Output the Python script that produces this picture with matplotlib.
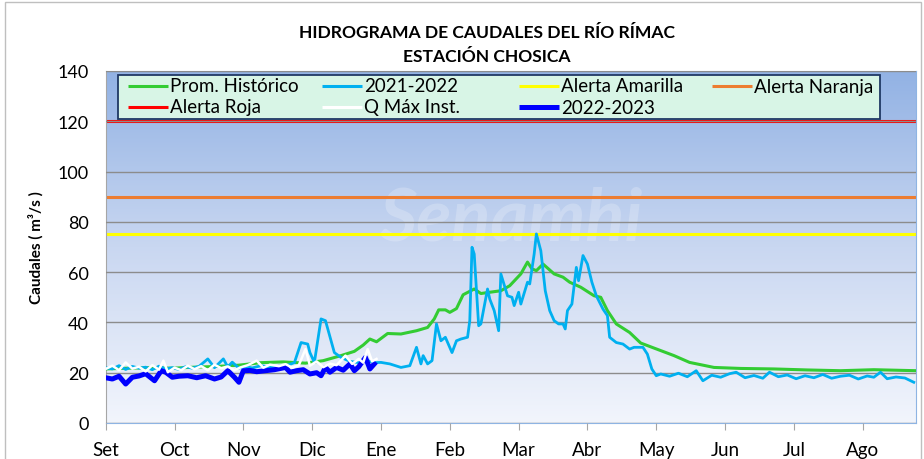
import numpy as np
import matplotlib
matplotlib.use('Agg')
import matplotlib.pyplot as plt
from matplotlib.colors import LinearSegmentedColormap

plt.rcParams['font.family'] = ['Lato', 'DejaVu Sans']

# ---- data ----
months = ['Set', 'Oct', 'Nov', 'Dic', 'Ene', 'Feb', 'Mar', 'Abr', 'May', 'Jun', 'Jul', 'Ago']

hist_days = [0, 10, 20, 30, 40, 50, 60, 70, 80, 90, 98, 106, 112, 116, 119, 122, 127, 133,
             140, 145, 148, 150, 153, 155, 158, 161, 166, 169, 173, 178, 182, 187, 190, 192,
             194, 197, 202, 206, 209, 214, 220, 223, 226, 230, 236, 241, 250, 256, 263, 274,
             286, 301, 316, 331, 346, 365]
hist_vals = [21.5, 21.8, 22.0, 21.8, 22.2, 22.5, 23.0, 24.0, 24.3, 23.8, 24.8, 26.8, 28.5, 31.0,
             33.4, 32.3, 35.6, 35.4, 36.7, 38.0, 41.4, 45.0, 45.0, 44.0, 45.5, 51.0, 53.3, 51.5,
             52.0, 52.6, 54.6, 59.3, 64.0, 61.3, 60.6, 63.2, 59.3, 58.0, 56.0, 54.0, 50.6, 50.0,
             44.7, 39.4, 36.0, 31.8, 28.8, 26.8, 24.1, 22.1, 21.7, 21.5, 21.1, 20.8, 21.2, 20.8]

q2122_days = [0, 3, 6, 9, 12, 15, 18, 21, 24, 27, 30, 33, 36, 39, 42, 46, 49, 53, 55, 57, 60,
              63, 66, 70, 74, 78, 82, 85, 88, 91, 92, 94, 97, 99, 103, 106, 110, 114, 118, 121,
              124, 128, 133, 137, 140, 142, 143, 145, 147, 149, 151, 153, 156, 158, 160, 163,
              164, 165, 166, 168, 169, 172, 173, 175, 177, 178, 181, 183, 184, 186, 187, 190,
              191, 193, 194, 196, 198, 200, 202, 204, 206, 207, 208, 210, 212, 213, 215, 217,
              219, 221, 224, 226, 227, 230, 233, 236, 238, 242, 244, 246, 248, 250, 254, 258,
              262, 266, 269, 273, 277, 281, 284, 288, 292, 296, 299, 303, 307, 311, 315, 319,
              323, 327, 331, 335, 339, 343, 346, 349, 352, 356, 360, 364]
q2122_vals = [22.0, 21.5, 22.8, 21.3, 22.5, 21.8, 22.2, 21.2, 22.6, 21.5, 22.0, 21.3, 22.4, 21.8,
              22.5, 25.5, 22.0, 25.5, 22.3, 24.2, 21.8, 22.5, 21.9, 22.8, 22.2, 22.6, 23.0, 24.0,
              32.0, 31.4, 28.0, 24.1, 41.4, 40.7, 28.0, 26.1, 24.5, 24.0, 24.8, 24.0, 24.1, 23.5,
              22.1, 22.8, 30.1, 23.5, 26.8, 23.5, 24.8, 39.4, 32.7, 34.1, 28.0, 32.7, 33.4, 34.1,
              40.7, 69.9, 67.2, 38.7, 39.4, 53.3, 49.3, 44.7, 36.7, 59.3, 50.6, 50.0, 46.7, 52.0,
              47.3, 56.0, 55.3, 67.2, 75.2, 68.5, 52.6, 44.7, 40.7, 39.4, 39.4, 37.4, 44.7, 47.3,
              61.9, 56.6, 66.6, 63.2, 56.0, 50.6, 45.3, 42.7, 34.1, 32.0, 31.4, 29.4, 30.1, 30.1,
              27.4, 21.5, 18.8, 19.5, 18.6, 19.8, 18.4, 20.8, 16.8, 19.0, 18.2, 19.6, 20.2, 18.0,
              18.9, 17.8, 20.2, 18.4, 19.1, 17.6, 18.8, 18.0, 19.3, 17.8, 18.6, 19.0, 17.5, 18.7,
              18.2, 20.2, 17.6, 18.3, 17.9, 16.2]

qmax_days = [0, 3, 6, 9, 12, 15, 18, 21, 24, 26, 28, 31, 34, 37, 40, 43, 46, 49, 52, 55, 58,
             61, 64, 68, 71, 74, 78, 81, 84, 87, 90, 92, 95, 98, 101, 104, 108, 111, 114, 116,
             118, 120, 122]
qmax_vals = [21.5, 22.8, 21.0, 24.1, 21.6, 22.4, 20.5, 23.0, 21.2, 24.8, 20.2, 22.0, 21.0, 22.8,
             21.4, 22.6, 21.0, 23.2, 21.8, 22.5, 21.0, 22.2, 23.0, 24.8, 22.0, 23.2, 22.6, 23.4,
             22.0, 23.0, 29.4, 22.8, 24.5, 22.2, 23.6, 23.0, 26.8, 23.5, 25.5, 24.0, 29.4, 24.5,
             25.5]

q2223_days = [0, 3, 6, 9, 12, 15, 18, 22, 25, 27, 30, 33, 37, 41, 45, 49, 52, 55, 58, 60, 62,
              65, 68, 72, 76, 81, 83, 86, 89, 92, 95, 97, 99, 101, 104, 107, 110, 112, 114, 117,
              119, 121]
q2223_vals = [18.0, 17.5, 18.6, 15.5, 18.2, 18.7, 19.6, 16.8, 20.8, 20.2, 18.2, 18.6, 18.8, 18.0,
              18.8, 17.5, 18.3, 20.8, 18.2, 16.2, 20.8, 20.9, 20.4, 20.8, 21.2, 22.1, 20.2, 20.8,
              21.2, 19.5, 20.0, 18.8, 22.1, 20.2, 22.1, 21.0, 23.5, 20.8, 22.4, 26.1, 21.5, 23.5]

alert_names = ['Alerta Amarilla', 'Alerta Naranja', 'Alerta Roja']
alert_levels = [75, 90, 120]
alert_colors = ['#ffff00', '#ed7d31', '#ff0000']

c_hist = '#33cc33'
c_2122 = '#00b0f0'
c_qmax = '#ffffff'
c_2223 = '#0000ff'

# plot area in pixels of the 924x460 picture
AX_L, AX_R, AX_T, AX_B = 105.7, 916.0, 72.0, 424.0


def px2ax(px, py):
    return (px - AX_L) / (AX_R - AX_L), (AX_B - py) / (AX_B - AX_T)


def draw_legend(ax, entries):
    # entries: (label, color, width, column, row)
    x0, y0 = px2ax(118, 120)
    x1, y1 = px2ax(880, 76)
    ax.add_patch(plt.Rectangle((x0, y0), x1 - x0, y1 - y0, transform=ax.transAxes,
                               facecolor='#d8f5e6', edgecolor='#1f3864', linewidth=1.3,
                               zorder=10))
    col_px = [128, 322, 519, 712]
    row_py = [87, 108]
    for label, color, lw, col, row in entries:
        hx0, hy = px2ax(col_px[col], row_py[row])
        hx1, _ = px2ax(col_px[col] + 40, row_py[row])
        ax.plot([hx0, hx1], [hy, hy], color=color, linewidth=lw, transform=ax.transAxes,
                zorder=11, solid_capstyle='butt', clip_on=False)
        ax.text(hx1 + 0.003, hy, label, transform=ax.transAxes, fontsize=13.5,
                ha='left', va='center', zorder=12)


def main():
    fig = plt.figure(figsize=(9.24, 4.6), dpi=100)
    ax = fig.add_axes([AX_L / 924, (460 - AX_B) / 460, (AX_R - AX_L) / 924, (AX_B - AX_T) / 460])

    # outer frame of the chart
    fig.add_artist(plt.Rectangle((5 / 924, -0.1), 916 / 924, 1.1 - 3 / 460,
                                 transform=fig.transFigure, fill=False,
                                 edgecolor='#bfbfbf', linewidth=1.0))

    # gradient background of the plot area
    grad = np.linspace(1, 0, 256).reshape(-1, 1)
    cmap = LinearSegmentedColormap.from_list('bg', ['#f2f5fc', '#c9d7f1', '#92b2e4'])
    ax.imshow(grad, cmap=cmap, extent=[0, 1, 0, 1], transform=ax.transAxes,
              aspect='auto', zorder=0, interpolation='bilinear')

    # faint watermark
    ax.text(0.5, 0.58, 'Senamhi', transform=ax.transAxes, fontsize=52, fontweight='bold',
            fontstyle='italic', color='white', alpha=0.22, ha='center', va='center', zorder=1)

    ax.set_xlim(0, 365)
    ax.set_ylim(0, 140)
    ax.set_yticks(np.arange(0, 141, 20))
    ax.set_xticks(np.arange(0, 365, 31))
    ax.set_xticklabels(months)
    ax.yaxis.grid(True, color='#8c8c8c', linewidth=1.0, zorder=1)
    ax.set_axisbelow(False)
    ax.tick_params(axis='y', length=0, labelsize=13, pad=12)
    ax.tick_params(axis='x', length=5, color='#a6a6a6', labelsize=13.5, pad=8)
    for s in ['top', 'right', 'bottom']:
        ax.spines[s].set_color('#8eb4e3')
    ax.spines['left'].set_color('#a6a6a6')

    for lvl, col in zip(alert_levels, alert_colors):
        ax.axhline(lvl, color=col, linewidth=2.2, zorder=2)

    ax.plot(hist_days, hist_vals, color=c_hist, linewidth=2.2, zorder=3)
    ax.plot(q2122_days, q2122_vals, color=c_2122, linewidth=2.0, zorder=4)
    ax.plot(q2223_days, q2223_vals, color=c_2223, linewidth=3.6, zorder=5)
    ax.plot(qmax_days, qmax_vals, color=c_qmax, linewidth=1.8, zorder=6)

    ax.set_ylabel('Caudales ( m³/s )', fontsize=11, fontweight='bold', labelpad=10)

    fig.text(487 / 924, 1 - 33 / 460, 'HIDROGRAMA DE CAUDALES DEL RÍO RÍMAC',
             ha='center', va='center', fontsize=12.6, fontweight='bold')
    fig.text(487 / 924, 1 - 57 / 460, 'ESTACIÓN CHOSICA',
             ha='center', va='center', fontsize=12.6, fontweight='bold')

    entries = [('Prom. Histórico', c_hist, 2.2, 0, 0),
               ('2021-2022', c_2122, 2.2, 1, 0),
               (alert_names[0], alert_colors[0], 2.2, 2, 0),
               (alert_names[1], alert_colors[1], 2.2, 3, 0),
               (alert_names[2], alert_colors[2], 2.2, 0, 1),
               ('Q Máx Inst.', c_qmax, 2.2, 1, 1),
               ('2022-2023', c_2223, 3.6, 2, 1)]
    draw_legend(ax, entries)

    fig.savefig('out.png', dpi=100)


if __name__ == '__main__':
    main()
